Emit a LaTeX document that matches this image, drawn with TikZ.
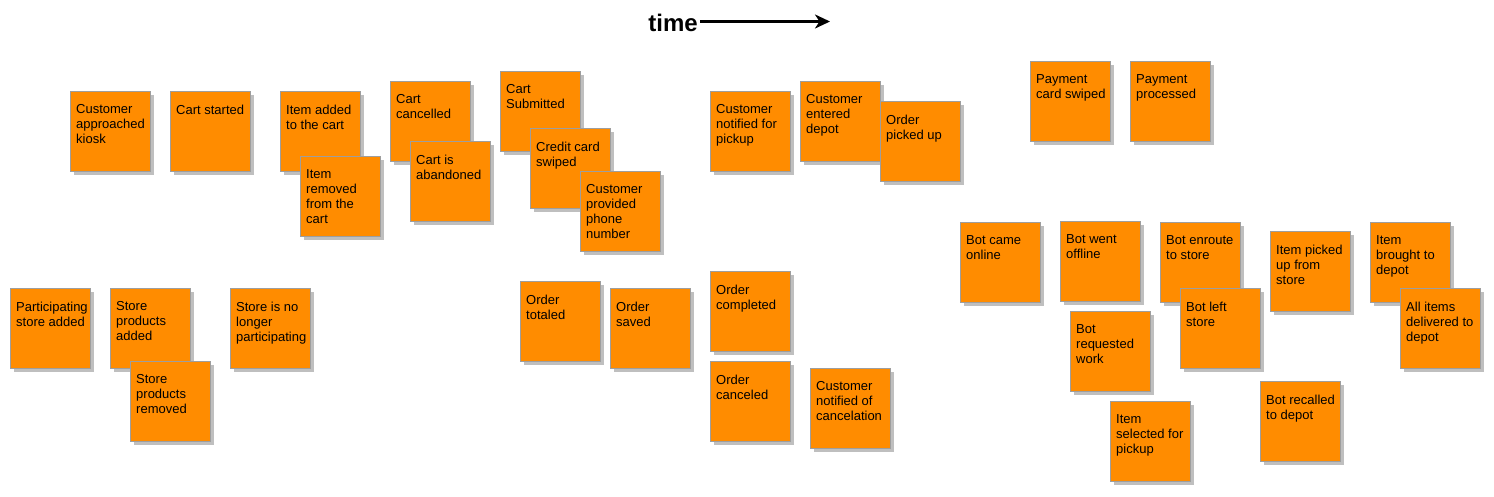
\documentclass[tikz,border=0pt]{standalone}
\usepackage{fontspec}
\usetikzlibrary{arrows.meta,shadows}
\newfontfamily\notefamily{Liberation Sans}
\newfontfamily\timefamily{Liberation Sans}
\definecolor{noteorange}{HTML}{FF8C00}
\definecolor{noteborder}{HTML}{9E9E9E}
\definecolor{noteshadow}{HTML}{BFBFBF}
\tikzset{
  note/.style={draw=noteborder, fill=noteorange, line width=1pt,
    minimum width=80pt, minimum height=80pt, inner sep=0pt, anchor=north west,
    drop shadow={shadow xshift=3pt, shadow yshift=-3pt, fill=noteshadow, opacity=1}},
  notetext/.style={anchor=north west, inner sep=0pt, align=left, xshift=6pt, yshift=-13.6pt,
    font={\notefamily\fontsize{13pt}{15pt}\selectfont}, text=black},
  timelabel/.style={font={\timefamily\bfseries\fontsize{24pt}{28pt}\selectfont}, inner xsep=2pt, inner ysep=0pt, anchor=base east},
  timearrow/.style={line width=2.4pt, -{Stealth[length=15pt,width=14pt,inset=4.5pt]}}
}
\newcommand{\sticky}[4]{\node[note, label={[notetext]north west:{#4}}] (#1) at (#2,#3) {};}
\begin{document}
\begin{tikzpicture}[x=1pt,y=-1pt]
\useasboundingbox (0,0) rectangle (1494,496);
\node[timelabel] (time) at (700,31) {time};
\coordinate (tend) at (830,21.5);
\draw[timearrow] (time.east |- tend) -- (tend);
\sticky{n1}{70}{91}{Customer\\approached\\kiosk}
\sticky{n2}{170}{91}{Cart started}
\sticky{n3}{280}{91}{Item added\\to the cart}
\sticky{n4}{300}{156}{Item\\removed\\from the\\cart}
\sticky{n5}{390}{81}{Cart\\cancelled}
\sticky{n6}{410}{141}{Cart is\\abandoned}
\sticky{n7}{500}{71}{Cart\\Submitted}
\sticky{n8}{530}{128}{Credit card\\swiped}
\sticky{n9}{580}{171}{Customer\\provided\\phone\\number}
\sticky{n10}{710}{91}{Customer\\notified for\\pickup}
\sticky{n11}{800}{81}{Customer\\entered\\depot}
\sticky{n12}{880}{101}{Order\\picked up}
\sticky{n13}{1030}{61}{Payment\\card swiped}
\sticky{n14}{1130}{61}{Payment\\processed}
\sticky{n15}{10}{288}{Participating\\store added}
\sticky{n16}{110}{288}{Store\\products\\added}
\sticky{n17}{130}{361}{Store\\products\\removed}
\sticky{n18}{230}{288}{Store is no\\longer\\participating}
\sticky{n19}{520}{281}{Order\\totaled}
\sticky{n20}{610}{288}{Order\\saved}
\sticky{n21}{710}{271}{Order\\completed}
\sticky{n22}{710}{361}{Order\\canceled}
\sticky{n23}{810}{368}{Customer\\notified of\\cancelation}
\sticky{n24}{960}{222}{Bot came\\online}
\sticky{n25}{1060}{221}{Bot went\\offline}
\sticky{n26}{1160}{222}{Bot enroute\\to store}
\sticky{n27}{1180}{288}{Bot left\\store}
\sticky{n28}{1070}{311}{Bot\\requested\\work}
\sticky{n29}{1110}{401}{Item\\selected for\\pickup}
\sticky{n30}{1270}{231}{Item picked\\up from\\store}
\sticky{n31}{1370}{222}{Item\\brought to\\depot}
\sticky{n32}{1400}{288}{All items\\delivered to\\depot}
\sticky{n33}{1260}{381}{Bot recalled\\to depot}
\end{tikzpicture}
\end{document}
